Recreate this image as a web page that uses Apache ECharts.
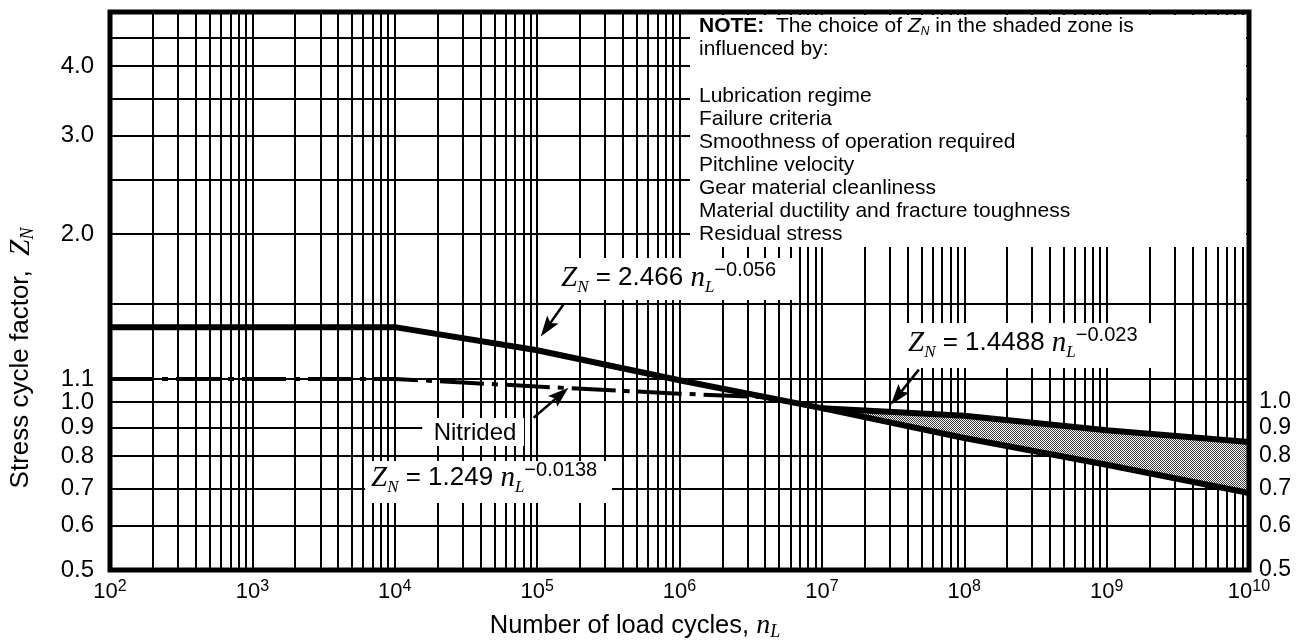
<!DOCTYPE html>
<html>
<head>
<meta charset="utf-8">
<script src="https://cdn.jsdelivr.net/npm/echarts@6/dist/echarts.min.js"></script>
<style>
  html, body { margin: 0; padding: 0; background: #fff; }
  #chart { width: 1302px; height: 643px; }
</style>
</head>
<body>
<div id="chart"></div>
<script>
// ---- data -------------------------------------------------------------
// Tick values and labels
const xTickValues = [1e2, 1e3, 1e4, 1e5, 1e6, 1e7, 1e8, 1e9, 1e10];
const yTickLeft = [0.5, 0.6, 0.7, 0.8, 0.9, 1.0, 1.1, 2.0, 3.0, 4.0];
const yTickRight = [0.5, 0.6, 0.7, 0.8, 0.9, 1.0];
// Horizontal rulings of the chart paper
const hRulings = [0.6, 0.7, 0.8, 1.0, 1.1, 1.5, 2.0, 2.5, 3.0, 3.5, 4.0, 4.5];
const partialRuling = [[1e2, 0.9], [1.56e4, 0.9]];

// Z_N = 2.466 n_L^-0.056 (with the flat plateau at low cycles)
const nUpper = [1e2, 1e4, 1e5, 1e6, 1e7, 1e8, 1e9, 1e10];
const zUpper = [1.362, 1.362, 1.238, 1.094, 0.975, 0.862, 0.772, 0.687];
// Nitrided: Z_N = 1.249 n_L^-0.0138
const nNitrided = [1e2, 1e4, 1e5, 1e6, 4e6];
const zNitrided = [1.1, 1.1, 1.066, 1.035, 1.02];
// Shaded zone: upper edge Z_N = 1.4488 n_L^-0.023, lower edge the 2.466 curve
const nZone = [1e7, 1e8, 1e9, 1e10];
const zZoneTop = [0.975, 0.945, 0.89, 0.848];
const zZoneBottom = [0.975, 0.862, 0.772, 0.687];

// Leader arrows: tail -> tip
const arrowTails = [[1.53e5, 1.495], [9.45e4, 0.937], [4.8e7, 1.143]];
const arrowTips  = [[1.06e5, 1.31], [1.66e5, 1.061], [3.05e7, 0.989]];

const influenceFactors = [
  'Lubrication regime',
  'Failure criteria',
  'Smoothness of operation required',
  'Pitchline velocity',
  'Gear material cleanliness',
  'Material ductility and fracture toughness',
  'Residual stress'
];

// ---- styling helpers --------------------------------------------------
const SANS = '"Liberation Sans", Arial, Helvetica, sans-serif';
const SERIF = '"Liberation Serif", "Times New Roman", serif';

// vertical rulings 2..9 x 10^k inside the plot
const vRulings = [];
for (let k = 2; k < 10; k++) {
  for (let m = 1; m <= 9; m++) {
    if (k === 2 && m === 1) continue;
    vRulings.push(m * Math.pow(10, k));
  }
}

// stipple tile for the shaded zone (fine dot screen)
const tile = document.createElement('canvas');
tile.width = 2; tile.height = 2;
(function () {
  const g = tile.getContext('2d');
  g.fillStyle = '#fff'; g.fillRect(0, 0, 2, 2);
  g.fillStyle = '#3a3a3a';
  g.fillRect(0, 0, 1, 1);
  g.fillRect(1, 1, 1, 1);
})();

const formulaRich = {
  z:  { fontFamily: SERIF, fontStyle: 'italic', fontSize: 29, lineHeight: 36 },
  zs: { fontFamily: SERIF, fontStyle: 'italic', fontSize: 17, lineHeight: 23, verticalAlign: 'bottom' },
  t:  { fontFamily: SANS, fontSize: 26, lineHeight: 36 },
  n:  { fontFamily: SERIF, fontStyle: 'italic', fontSize: 29, lineHeight: 36 },
  p:  { fontFamily: SANS, fontSize: 20, lineHeight: 23, verticalAlign: 'top' }
};
function formula(coef, expo) {
  return '{z|Z}{zs|N}{t| = ' + coef + ' }{n|n}{zs|L}{p|\u2212' + expo + '}';
}

const GRID = { left: 110, top: 12, right: 53, bottom: 73 };
const PW = 1302 - GRID.left - GRID.right;
const PH = 643 - GRID.top - GRID.bottom;

function whiteBox(x1, y1, x2, y2) {
  return { type: 'rect', z: 8, silent: true,
    shape: { x: x1, y: y1, width: x2 - x1, height: y2 - y1 },
    style: { fill: '#fff' } };
}
function label(x, y, text, rich, extra) {
  return Object.assign({ type: 'text', z: 12, silent: true, x: x, y: y,
    style: { text: text, rich: rich || {}, fill: '#000', align: 'left', verticalAlign: 'middle',
             font: '21px ' + SANS } }, extra || {});
}

const graphics = [
  // blank areas carrying the annotations
  whiteBox(690, 15, 1246, 247),
  whiteBox(545, 258, 792, 300),
  whiteBox(903, 323, 1155, 368),
  whiteBox(423, 418, 524, 446),
  whiteBox(365, 461, 612, 503),
  // formulas
  label(561, 278, formula('2.466', '0.056'), formulaRich),
  label(908, 343, formula('1.4488', '0.023'), formulaRich),
  label(371, 478, formula('1.249', '0.0138'), formulaRich),
  label(475, 433, 'Nitrided', {}, { style: { text: 'Nitrided', fill: '#000', align: 'center',
        verticalAlign: 'middle', font: '24px ' + SANS } }),
  // note
  label(699, 26, '{b|NOTE:}{t|  The choice of }{z|Z}{zs|N}{t| in the shaded zone is}', {
    b: { fontFamily: SANS, fontWeight: 'bold', fontSize: 21, lineHeight: 24 },
    t: { fontFamily: SANS, fontSize: 21, lineHeight: 24 },
    z: { fontFamily: SANS, fontStyle: 'italic', fontSize: 21, lineHeight: 24 },
    zs: { fontFamily: SANS, fontStyle: 'italic', fontSize: 12, lineHeight: 14, verticalAlign: 'bottom' }
  }),
  label(699, 49, 'influenced by:'),
  // frame
  { type: 'rect', z: 20, silent: true,
    shape: { x: GRID.left, y: GRID.top, width: PW, height: PH },
    style: { fill: null, stroke: '#000', lineWidth: 5 } },
  // axis names
  { type: 'text', z: 12, silent: true, x: 21, y: 358, rotation: Math.PI / 2,
    style: { text: '{a|Stress cycle factor,  }{z|Z}{zs|N}', align: 'center', verticalAlign: 'middle', fill: '#000',
      rich: {
        a: { fontFamily: SANS, fontSize: 26, lineHeight: 32 },
        z: { fontFamily: SERIF, fontStyle: 'italic', fontSize: 29, lineHeight: 32 },
        zs: { fontFamily: SERIF, fontStyle: 'italic', fontSize: 18, lineHeight: 21, verticalAlign: 'bottom' }
      } } },
  { type: 'text', z: 12, silent: true, x: 635, y: 626,
    style: { text: '{a|Number of load cycles, }{n|n}{ns|L}', align: 'center', verticalAlign: 'middle', fill: '#000',
      rich: {
        a: { fontFamily: SANS, fontSize: 25.5, lineHeight: 30 },
        n: { fontFamily: SERIF, fontStyle: 'italic', fontSize: 28, lineHeight: 30 },
        ns: { fontFamily: SERIF, fontStyle: 'italic', fontSize: 18, lineHeight: 20, verticalAlign: 'bottom' }
      } } }
];
influenceFactors.forEach(function (txt, i) {
  graphics.push(label(699, 96 + i * 23, txt));
});

const pair = (xs, ys) => xs.map((x, i) => [x, ys[i]]);

const option = {
  animation: false,
  backgroundColor: '#fff',
  grid: Object.assign({ containLabel: false, outerBoundsMode: 'none' }, GRID),
  xAxis: {
    type: 'log', logBase: 10, min: 1e2, max: 1e10,
    axisLine: { show: false }, axisTick: { show: false }, splitLine: { show: false },
    axisLabel: {
      customValues: xTickValues, margin: 9, color: '#000',
      formatter: v => '{b|10}{s|' + Math.round(Math.log10(v)) + '}',
      rich: {
        b: { fontFamily: SANS, fontSize: 22, lineHeight: 26, color: '#000' },
        s: { fontFamily: SANS, fontSize: 16, lineHeight: 16, verticalAlign: 'top', color: '#000' }
      }
    }
  },
  yAxis: [
    { type: 'log', logBase: 10, min: 0.5, max: 5, position: 'left',
      axisLine: { show: false }, axisTick: { show: false }, splitLine: { show: false },
      axisLabel: { customValues: yTickLeft, margin: 16, color: '#000', fontFamily: SANS, fontSize: 24,
        formatter: v => v.toFixed(1) } },
    { type: 'log', logBase: 10, min: 0.5, max: 5, position: 'right',
      axisLine: { show: false }, axisTick: { show: false }, splitLine: { show: false },
      axisLabel: { customValues: yTickRight, margin: 10, color: '#000', fontFamily: SANS, fontSize: 23,
        formatter: v => v.toFixed(1) } }
  ],
  graphic: { elements: graphics },
  series: [
    { // chart-paper rulings
      type: 'line', data: [], silent: true, z: 1,
      markLine: {
        z: 1, silent: true, symbol: ['none', 'none'], label: { show: false },
        lineStyle: { color: '#000', width: 2, type: 'solid' },
        emphasis: { disabled: true },
        data: vRulings.map(v => ({ xAxis: v }))
          .concat(hRulings.map(v => ({ yAxis: v })))
          .concat([[{ coord: partialRuling[0] }, { coord: partialRuling[1] }]])
      }
    },
    { // shaded zone
      type: 'custom', z: 9, silent: true,
      data: [[nZone[0], zZoneTop[0]]],
      encode: { x: 0, y: 1 },
      renderItem: function (params, api) {
        if (params.dataIndex !== 0) return null;
        const pts = [];
        for (let i = 0; i < nZone.length; i++) pts.push(api.coord([nZone[i], zZoneTop[i]]));
        for (let i = nZone.length - 1; i >= 0; i--) pts.push(api.coord([nZone[i], zZoneBottom[i]]));
        return { type: 'polygon', shape: { points: pts },
          style: { fill: { image: tile, repeat: 'repeat' }, stroke: null } };
      }
    },
    { name: 'Z_N = 2.466 n_L^-0.056', type: 'line', z: 10, data: pair(nUpper, zUpper),
      showSymbol: false, symbol: 'none', silent: true,
      lineStyle: { color: '#000', width: 6, join: 'round' } },
    { name: 'Z_N = 1.4488 n_L^-0.023', type: 'line', z: 10, data: pair(nZone, zZoneTop),
      showSymbol: false, symbol: 'none', silent: true,
      lineStyle: { color: '#000', width: 6 } },
    { name: 'Nitrided', type: 'line', z: 10, data: pair(nNitrided, zNitrided),
      showSymbol: false, symbol: 'none', silent: true,
      lineStyle: { color: '#000', width: 4, type: [44, 8, 6, 8] } },
    { // leader arrows
      type: 'custom', z: 11, silent: true, clip: false,
      data: arrowTails.map((t, i) => [t[0], t[1], arrowTips[i][0], arrowTips[i][1]]),
      encode: { x: [0, 2], y: [1, 3] },
      renderItem: function (params, api) {
        const p0 = api.coord([api.value(0), api.value(1)]);
        const p1 = api.coord([api.value(2), api.value(3)]);
        const dx = p1[0] - p0[0], dy = p1[1] - p0[1];
        const len = Math.hypot(dx, dy);
        const ux = dx / len, uy = dy / len, px = -uy, py = ux;
        const headLen = 21, headW = 7;
        const bx = p1[0] - ux * headLen, by = p1[1] - uy * headLen;
        const nx = p1[0] - ux * headLen * 0.8, ny = p1[1] - uy * headLen * 0.8;
        return { type: 'group', children: [
          { type: 'line', shape: { x1: p0[0], y1: p0[1], x2: nx, y2: ny },
            style: { stroke: '#000', lineWidth: 2.5 } },
          { type: 'polygon', shape: { points: [
              [p1[0], p1[1]], [bx + px * headW, by + py * headW], [nx, ny], [bx - px * headW, by - py * headW]] },
            style: { fill: '#000' } }
        ] };
      }
    }
  ]
};

const chart = echarts.init(document.getElementById('chart'));
chart.setOption(option);
</script>
</body>
</html>
